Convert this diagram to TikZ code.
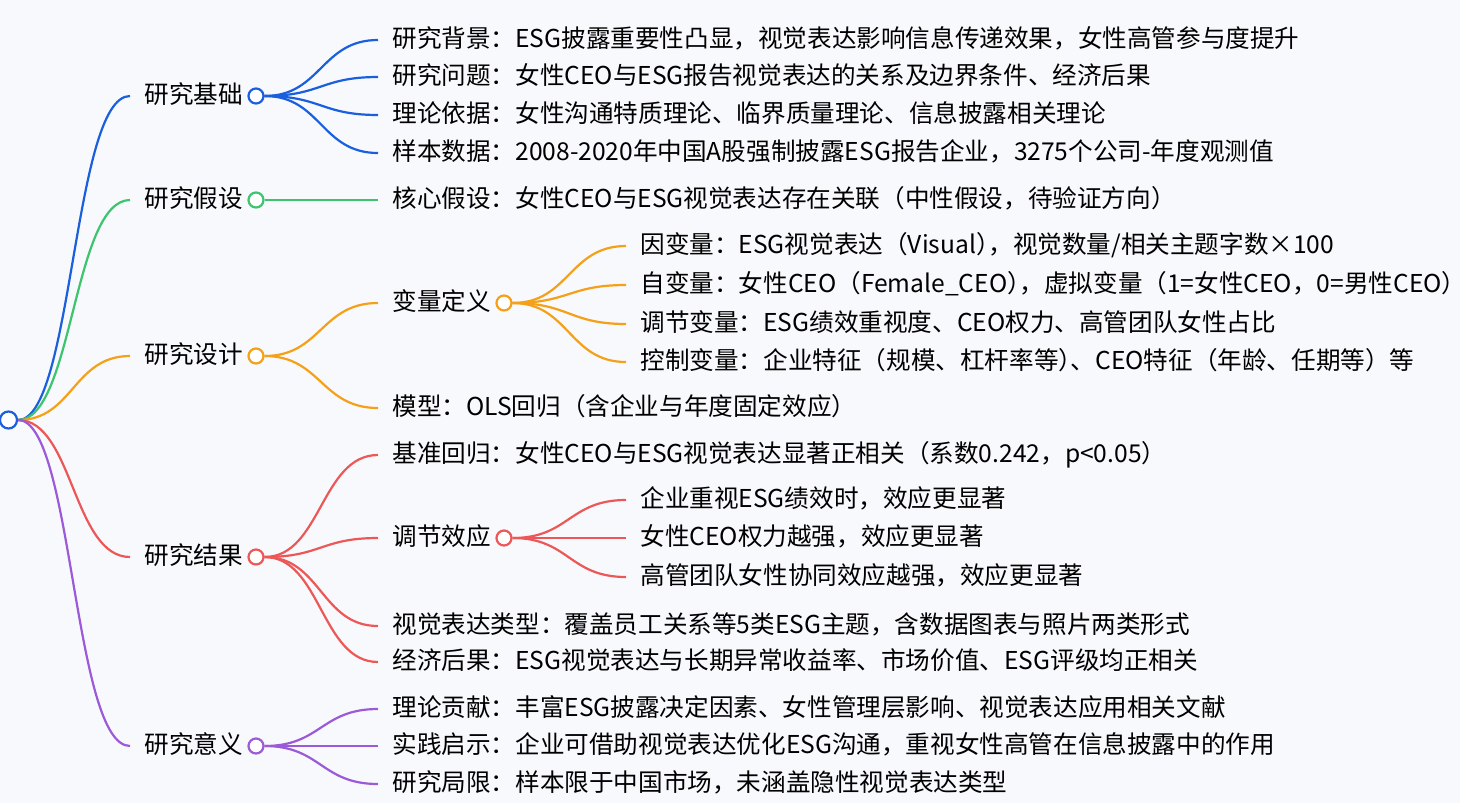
\documentclass[tikz,border=0pt]{standalone}
\usepackage{fontspec}
\setmainfont{Noto Sans CJK SC}
\definecolor{cblue}{RGB}{26,95,222}
\definecolor{cgreen}{RGB}{60,196,110}
\definecolor{corange}{RGB}{245,160,25}
\definecolor{cred}{RGB}{236,88,88}
\definecolor{cpurple}{RGB}{155,90,215}
\definecolor{bgpage}{RGB}{248,249,252}
\newcommand{\halfkern}{\kern-0.5em}
\tikzset{
  lbl/.style={anchor=west,inner xsep=7bp,inner ysep=0pt,text height=0.88em,text depth=0.12em,font=\fontsize{12.3bp}{14bp}\selectfont},
  dot/.style={circle,minimum size=7.5bp,inner sep=0pt,line width=1.1bp,fill=white},
  branch/.style={line width=1.1bp},
}
\begin{document}
\begin{tikzpicture}[x=0.5bp,y=-0.5bp,line join=bevel,]
\fill [bgpage] (0,0) rectangle (1460,803);
\useasboundingbox (0,0) rectangle (1460,803);
%%
\node (node_0) at (8.5,420) [dot,draw=cblue,minimum size=8.5bp] {};
%% level 1
\node (node_1) at (130,96) [lbl] {研究基础};
  \node (dot_1) at (256,96) [dot,draw=cblue] {};
\node (node_2) at (130,200) [lbl] {研究假设};
  \node (dot_2) at (256,200) [dot,draw=cgreen] {};
\node (node_3) at (130,356) [lbl] {研究设计};
  \node (dot_3) at (256,356) [dot,draw=corange] {};
\node (node_4) at (130,557) [lbl] {研究结果};
  \node (dot_4) at (256,557) [dot,draw=cred] {};
\node (node_5) at (130,746) [lbl] {研究意义};
  \node (dot_5) at (256,746) [dot,draw=cpurple] {};
\draw [branch,cblue] (node_0) ..controls (73,420) and (73,96) .. (node_1.west);
\draw [branch,cgreen] (node_0) ..controls (73,420) and (73,200) .. (node_2.west);
\draw [branch,corange] (node_0) ..controls (73,420) and (73,356) .. (node_3.west);
\draw [branch,cred] (node_0) ..controls (73,420) and (73,557) .. (node_4.west);
\draw [branch,cpurple] (node_0) ..controls (73,420) and (73,746) .. (node_5.west);
%% 研究基础
\node (node_1_1) at (378,40) [lbl] {研究背景：ESG披露重要性凸显，视觉表达影响信息传递效果，女性高管参与度提升};
\node (node_1_2) at (378,77) [lbl] {研究问题：女性CEO与ESG报告视觉表达的关系及边界条件、经济后果};
\node (node_1_3) at (378,115) [lbl] {理论依据：女性沟通特质理论、临界质量理论、信息披露相关理论};
\node (node_1_4) at (378,153) [lbl] {样本数据：2008-2020年中国A股强制披露ESG报告企业，3275个公司-年度观测值};
\draw [branch,cblue] (dot_1) ..controls (321,96) and (321,40) .. (node_1_1.west);
\draw [branch,cblue] (dot_1) ..controls (321,96) and (321,77) .. (node_1_2.west);
\draw [branch,cblue] (dot_1) ..controls (321,96) and (321,115) .. (node_1_3.west);
\draw [branch,cblue] (dot_1) ..controls (321,96) and (321,153) .. (node_1_4.west);
%% 研究假设
\node (node_2_1) at (378,200) [lbl] {核心假设：女性CEO与ESG视觉表达存在关联（中性假设，待验证方向）};
\draw [branch,cgreen] (dot_2) -- (node_2_1.west);
%% 研究设计
\node (node_3_1) at (378,303) [lbl] {变量定义};
  \node (dot_3_1) at (504,303) [dot,draw=corange] {};
\node (node_3_2) at (378,408) [lbl] {模型：OLS回归（含企业与年度固定效应）};
\draw [branch,corange] (dot_3) ..controls (321,356) and (321,303) .. (node_3_1.west);
\draw [branch,corange] (dot_3) ..controls (321,356) and (321,408) .. (node_3_2.west);
\node (node_3_1_1) at (626,246) [lbl] {因变量：ESG视觉表达（Visual）\halfkern，视觉数量/相关主题字数×100};
\node (node_3_1_2) at (626,285) [lbl] {自变量：女性CEO（Female\_CEO）\halfkern，虚拟变量（1=女性CEO，0=男性CEO）\kern-7bp};
\node (node_3_1_3) at (626,324) [lbl] {调节变量：ESG绩效重视度、CEO权力、高管团队女性占比};
\node (node_3_1_4) at (626,362) [lbl] {控制变量：企业特征（规模、杠杆率等）\halfkern、CEO特征（年龄、任期等）等};
\draw [branch,corange] (dot_3_1) ..controls (569,303) and (569,246) .. (node_3_1_1.west);
\draw [branch,corange] (dot_3_1) ..controls (569,303) and (569,285) .. (node_3_1_2.west);
\draw [branch,corange] (dot_3_1) ..controls (569,303) and (569,324) .. (node_3_1_3.west);
\draw [branch,corange] (dot_3_1) ..controls (569,303) and (569,362) .. (node_3_1_4.west);
%% 研究结果
\node (node_4_1) at (378,455) [lbl] {基准回归：女性CEO与ESG视觉表达显著正相关（系数0.242，p<0.05）};
\node (node_4_2) at (378,538) [lbl] {调节效应};
  \node (dot_4_2) at (504,538) [dot,draw=cred] {};
\node (node_4_3) at (378,626) [lbl] {视觉表达类型：覆盖员工关系等5类ESG主题，含数据图表与照片两类形式};
\node (node_4_4) at (378,662) [lbl] {经济后果：ESG视觉表达与长期异常收益率、市场价值、ESG评级均正相关};
\draw [branch,cred] (dot_4) ..controls (321,557) and (321,455) .. (node_4_1.west);
\draw [branch,cred] (dot_4) ..controls (321,557) and (321,538) .. (node_4_2.west);
\draw [branch,cred] (dot_4) ..controls (321,557) and (321,626) .. (node_4_3.west);
\draw [branch,cred] (dot_4) ..controls (321,557) and (321,662) .. (node_4_4.west);
\node (node_4_2_1) at (626,500) [lbl] {企业重视ESG绩效时，效应更显著};
\node (node_4_2_2) at (626,538) [lbl] {女性CEO权力越强，效应更显著};
\node (node_4_2_3) at (626,577) [lbl] {高管团队女性协同效应越强，效应更显著};
\draw [branch,cred] (dot_4_2) ..controls (569,538) and (569,500) .. (node_4_2_1.west);
\draw [branch,cred] (dot_4_2) -- (node_4_2_2.west);
\draw [branch,cred] (dot_4_2) ..controls (569,538) and (569,577) .. (node_4_2_3.west);
%% 研究意义
\node (node_5_1) at (378,709) [lbl] {理论贡献：丰富ESG披露决定因素、女性管理层影响、视觉表达应用相关文献};
\node (node_5_2) at (378,746) [lbl] {实践启示：企业可借助视觉表达优化ESG沟通，重视女性高管在信息披露中的作用};
\node (node_5_3) at (378,784) [lbl] {研究局限：样本限于中国市场，未涵盖隐性视觉表达类型};
\draw [branch,cpurple] (dot_5) ..controls (321,746) and (321,709) .. (node_5_1.west);
\draw [branch,cpurple] (dot_5) -- (node_5_2.west);
\draw [branch,cpurple] (dot_5) ..controls (321,746) and (321,784) .. (node_5_3.west);
%
\end{tikzpicture}
\end{document}
